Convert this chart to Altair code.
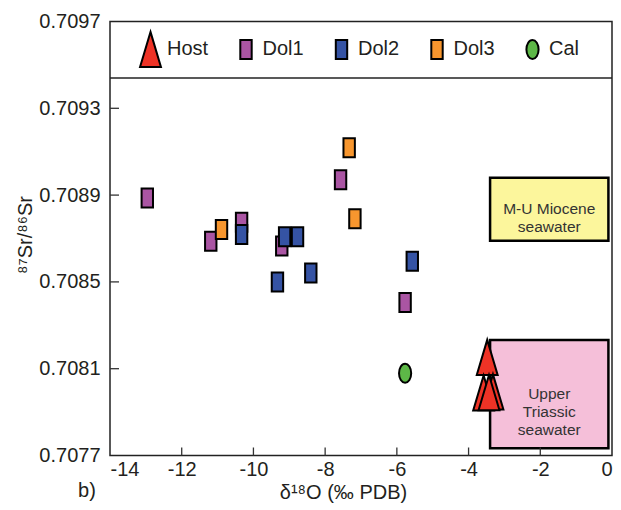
import altair as alt
import pandas as pd

# ---- data ----
host_x = [-3.48, -3.58, -3.32, -3.43]
host_y = [0.708152, 0.707988, 0.707993, 0.707990]
dol1_x = [-12.96, -11.19, -10.33, -9.21, -7.57, -5.77]
dol1_y = [0.708887, 0.708687, 0.708775, 0.708665, 0.708971, 0.708405]
dol2_x = [-10.33, -9.13, -8.77, -9.33, -8.40, -5.57]
dol2_y = [0.708718, 0.708708, 0.708708, 0.708499, 0.708541, 0.708595]
dol3_x = [-10.89, -7.33, -7.17]
dol3_y = [0.708741, 0.709118, 0.708791]
cal_x = [-5.77]
cal_y = [0.708079]

groups = ["Host", "Dol1", "Dol2", "Dol3", "Cal"]
group_colors = ["#EE3326", "#AA55A3", "#3553A4", "#F7962E", "#5DB847"]

box_labels = ["M-U Miocene\nseawater", "Upper\nTriassic\nseawater"]
box_x1 = [-3.4, -3.4]
box_x2 = [-0.1, -0.1]
box_y1 = [0.70869, 0.707733]
box_y2 = [0.70898, 0.708232]
box_fills = ["#FCF69C", "#F5BFD9"]

x_ticks = [-14, -12, -10, -8, -6, -4, -2, 0]
y_ticks = [0.7077, 0.7081, 0.7085, 0.7089, 0.7093, 0.7097]

FONT = "Liberation Sans"
TXT = "#231F20"

# ---- tables ----
rows = []
for name, xs_, ys_ in [("Dol1", dol1_x, dol1_y), ("Dol3", dol3_x, dol3_y),
                       ("Dol2", dol2_x, dol2_y), ("Cal", cal_x, cal_y),
                       ("Host", host_x, host_y)]:
    for a, b in zip(xs_, ys_):
        rows.append({"type": name, "d18O": a, "sr": b})
pts = pd.DataFrame(rows)

boxes = pd.DataFrame({
    "label": box_labels, "x1": box_x1, "x2": box_x2,
    "y1": box_y1, "y2": box_y2, "fill": box_fills,
})
boxes["xc"] = (boxes["x1"] + boxes["x2"]) / 2
boxes["yc"] = (boxes["y1"] + boxes["y2"]) / 2

xt = pd.DataFrame({"v": x_ticks[1:-1]})
yt = pd.DataFrame({"v": y_ticks[1:-1]})

xs = alt.Scale(domain=[x_ticks[0], x_ticks[-1]], nice=False, zero=False)
ys = alt.Scale(domain=[y_ticks[0], y_ticks[-1]], nice=False, zero=False)

# all symbol paths share the same vertical bounds (leading move-tos) so the
# legend entries line up
pad = "M0,-1.85M0,1.85"
tri = "M0,-1.85L1.1,1.85L-1.1,1.85Z"
rect = pad + "M-0.6,-1L0.6,-1L0.6,1L-0.6,1Z"
ell = pad + "M-0.64,0A0.64,1,0,1,0,0.64,0A0.64,1,0,1,0,-0.64,0Z"

x_axis = alt.Axis(values=x_ticks, labelExpr="'' + datum.value", ticks=False,
                  domain=False, grid=False, labelFont=FONT, labelFontSize=20,
                  labelColor=TXT, labelPadding=4,
                  title="δ¹⁸O (‰ PDB)", titleFont=FONT, titleFontSize=20,
                  titleFontWeight="normal", titleColor=TXT,
                  titleX=233, titleY=43, titleBaseline="alphabetic",
                  titleAlign="center")
y_axis = alt.Axis(values=y_ticks, format=".4f", ticks=False, domain=False,
                  grid=False, labelFont=FONT, labelFontSize=20, labelColor=TXT,
                  labelPadding=10,
                  title="⁸⁷Sr/⁸⁶Sr", titleFont=FONT, titleFontSize=20,
                  titleFontWeight="normal", titleColor=TXT,
                  titleX=-85, titleY=213, titleAngle=-90,
                  titleBaseline="middle", titleAlign="center")

base_boxes = alt.Chart(boxes).mark_rect(stroke="black", strokeWidth=2.5).encode(
    x=alt.X("x1:Q", scale=xs, axis=x_axis),
    x2="x2:Q",
    y=alt.Y("y1:Q", scale=ys, axis=y_axis),
    y2="y2:Q",
    fill=alt.Fill("fill:N", scale=None),
)

box_text = alt.Chart(boxes).mark_text(
    lineBreak="\n", font=FONT, fontSize=15.5, lineHeight=18, color="#333333",
    align="center", baseline="middle"
).encode(x=alt.X("xc:Q", scale=xs), y=alt.Y("yc:Q", scale=ys), text="label:N")

points = alt.Chart(pts).mark_point(
    filled=True, stroke="black", strokeWidth=2, opacity=1, size=361
).encode(
    x=alt.X("d18O:Q", scale=xs),
    y=alt.Y("sr:Q", scale=ys),
    color=alt.Color("type:N", scale=alt.Scale(domain=groups, range=group_colors),
                    legend=alt.Legend(
                        title=None, orient="none", legendX=30, legendY=17,
                        direction="horizontal", columns=5,
                        symbolSize=361, symbolStrokeColor="black",
                        symbolStrokeWidth=2, symbolOpacity=1,
                        labelFont=FONT, labelFontSize=20, labelColor=TXT,
                        labelOffset=6, columnPadding=26.5, padding=0)),
    shape=alt.Shape("type:N", scale=alt.Scale(domain=groups,
                                              range=[tri, rect, rect, rect, ell])),
)

yticks = alt.Chart(yt).mark_rule(color="#333333", strokeWidth=1.3).encode(
    y=alt.Y("v:Q", scale=ys), x=alt.value(0), x2=alt.value(9))
xticks = alt.Chart(xt).mark_rule(color="#333333", strokeWidth=1.3).encode(
    x=alt.X("v:Q", scale=xs), y=alt.value(434), y2=alt.value(426))

sep = alt.Chart(pd.DataFrame({"a": [0]})).mark_rule(
    color="#222222", strokeWidth=1.5).encode(
    x=alt.value(0), x2=alt.value(502), y=alt.value(56.5))

panel = alt.Chart(pd.DataFrame({"t": ["b)"]})).mark_text(
    font=FONT, fontSize=20, color=TXT, align="center", baseline="middle"
).encode(x=alt.value(-23), y=alt.value(469.5), text="t:N")

chart = alt.layer(base_boxes, box_text, xticks, yticks, sep, points, panel).properties(
    width=502, height=434,
    autosize=alt.AutoSizeParams(type="none"),
    padding={"left": 102, "top": 13.5, "right": 1, "bottom": 54},
).configure_view(stroke="#222222", strokeWidth=1.5)

chart.save("out.html", embed_options={"renderer": "svg", "actions": False})
